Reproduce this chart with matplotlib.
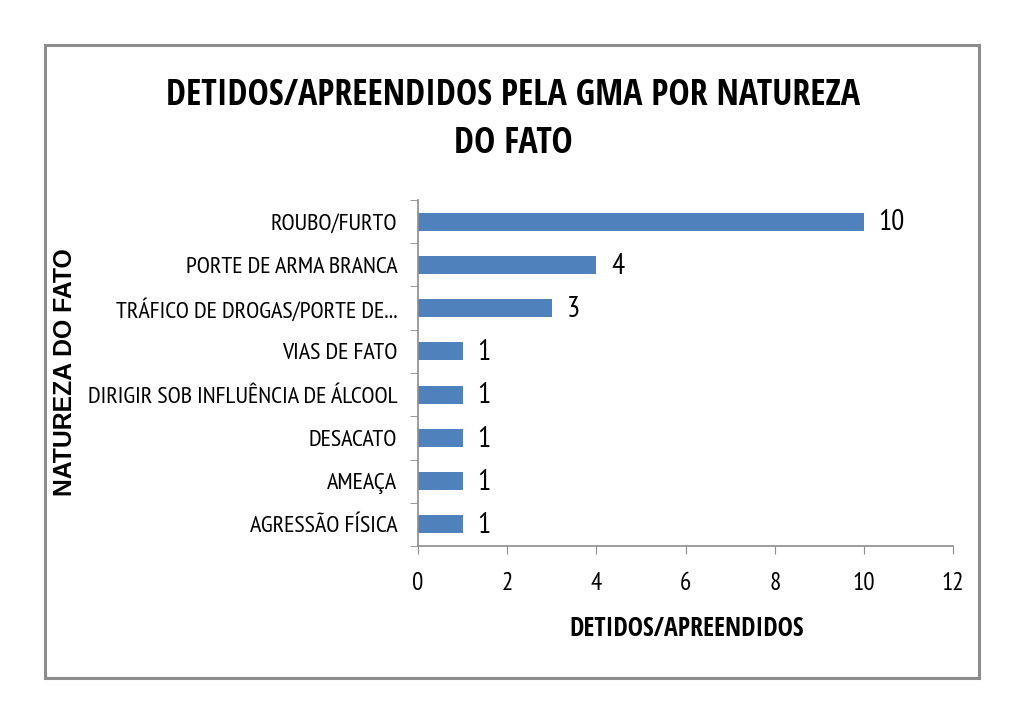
import matplotlib
matplotlib.use("Agg")
import matplotlib.pyplot as plt
from matplotlib.patches import Rectangle

# dados do grafico
categorias = ["ROUBO/FURTO", "PORTE DE ARMA BRANCA", "TRÁFICO DE DROGAS/PORTE DE...",
              "VIAS DE FATO", "DIRIGIR SOB INFLUÊNCIA DE ÁLCOOL", "DESACATO",
              "AMEAÇA", "AGRESSÃO FÍSICA"]
valores = [10, 4, 3, 1, 1, 1, 1, 1]
xticks = [0, 2, 4, 6, 8, 10, 12]

titulo = "DETIDOS/APREENDIDOS PELA GMA POR NATUREZA\nDO FATO"
xlabel = "DETIDOS/APREENDIDOS"
ylabel = "NATUREZA DO FATO"

narrow = ["PT Sans Narrow", "DejaVu Sans"]
narrow_bold = ["Open Sans Condensed", "DejaVu Sans"]
cinza = "#8c8c8c"

fig = plt.figure(figsize=(10.24, 7.23), dpi=100)
ax = fig.add_axes([418/1024, 1-546/723, (953-418)/1024, (546-200)/723])

pos = list(range(len(categorias)))
ax.barh(pos, valores, height=0.42, color="#4F81BD")
ax.set_ylim(len(categorias)-0.5, -0.5)
ax.set_xlim(0, 12)

for p, v in zip(pos, valores):
    ax.text(v + 0.33, p + 0.03, str(v), va="center", ha="left", fontsize=21,
            family=narrow, color="black")

ax.set_yticks(pos)
ax.set_yticklabels(categorias, family=narrow, fontsize=17.4)
ax.tick_params(axis="y", which="major", length=0, pad=15)
ax.set_yticks([p - 0.5 for p in pos] + [len(pos) - 0.5], minor=True)
ax.tick_params(axis="y", which="minor", length=6, color=cinza)

ax.set_xticks(xticks)
ax.set_xticklabels([str(t) for t in xticks], family=narrow, fontsize=18)
ax.tick_params(axis="x", length=6, color=cinza, pad=13)

for s in ["top", "right"]:
    ax.spines[s].set_visible(False)
for s in ["left", "bottom"]:
    ax.spines[s].set_color(cinza)
    ax.spines[s].set_linewidth(1.2)

fig.text(687/1024, 1-628/723, xlabel, ha="center", va="center", fontsize=18.5,
         fontweight="bold", family=narrow_bold)
fig.text(65/1024, 1-372/723, ylabel, ha="center", va="center", fontsize=17.8,
         fontweight="bold", rotation=90, family=["Liberation Sans", "DejaVu Sans"])
fig.text(513/1024, 1-120/723, titulo, ha="center", va="center", fontsize=25.8,
         fontweight="bold", family=narrow_bold, linespacing=1.48)

# moldura cinza em volta do grafico
fig.patches.append(Rectangle((45/1024, 1-678/723), (979-45)/1024, (678-45)/723,
                             transform=fig.transFigure, fill=False,
                             edgecolor=cinza, linewidth=2.2))

fig.savefig("out.png", dpi=100)
